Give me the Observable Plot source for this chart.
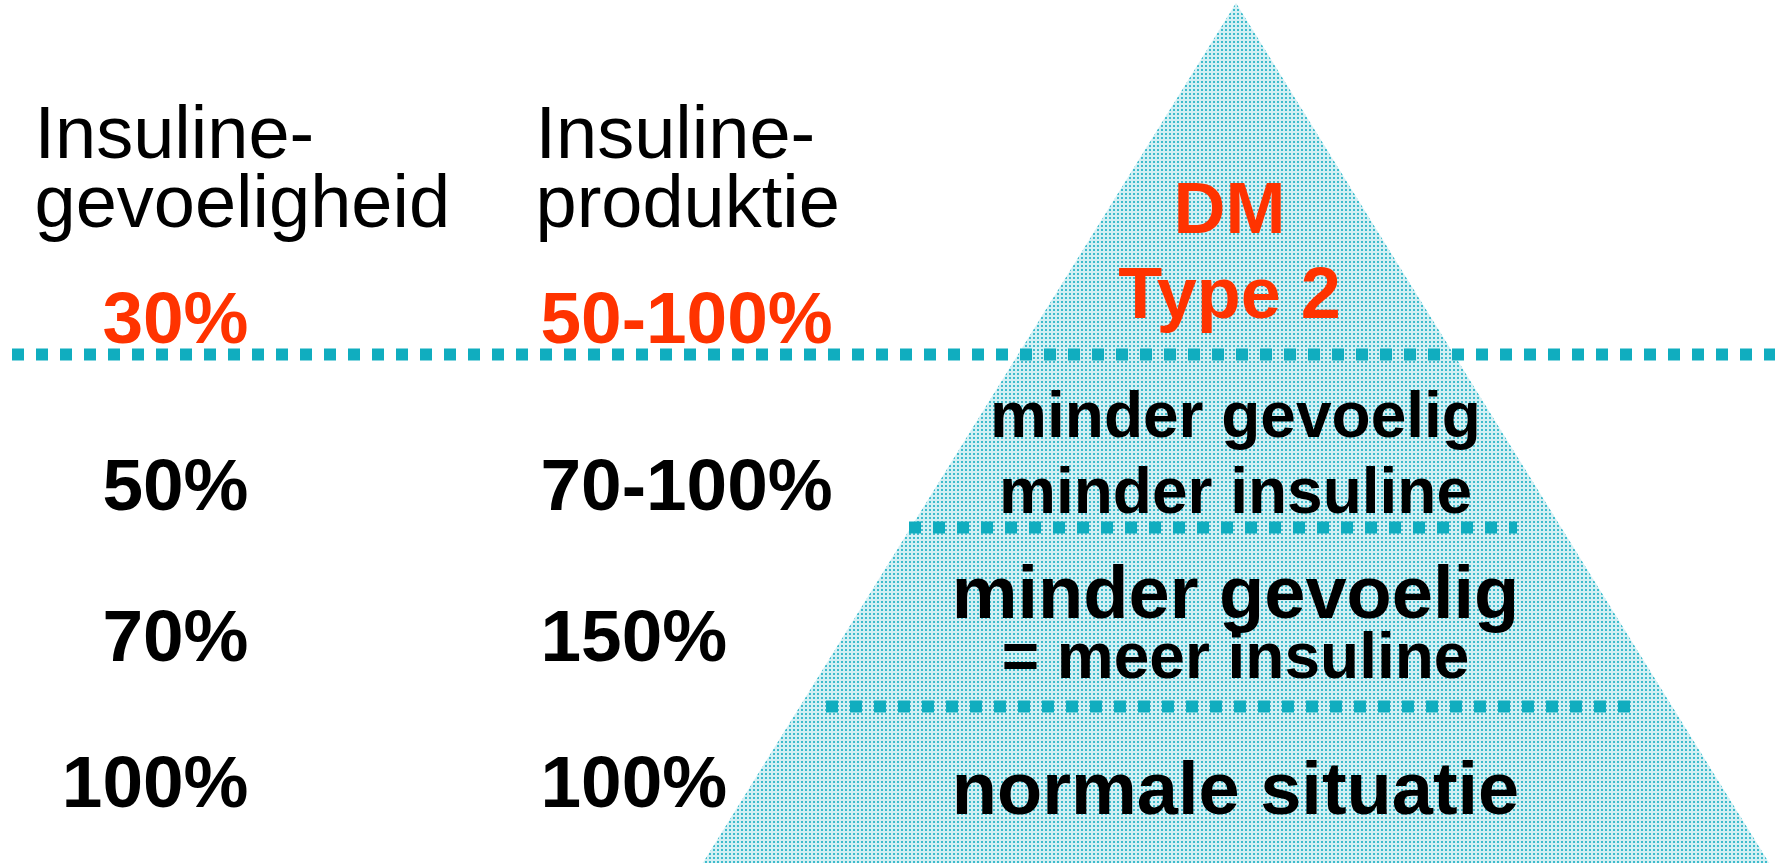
<!DOCTYPE html>
<html>
<head>
<meta charset="utf-8">
<script src="https://cdn.jsdelivr.net/npm/d3@7"></script>
<script src="https://cdn.jsdelivr.net/npm/@observablehq/plot@0.6"></script>
<style>
  html, body { margin: 0; padding: 0; background: #ffffff; overflow: hidden; }
  svg { display: block; }
</style>
</head>
<body>
<div id="chart"></div>
<script>
// ---- data ----
const columnHeaders = ["Insuline-\ngevoeligheid", "Insuline-\nproduktie"];
const sensitivity = ["30%", "50%", "70%", "100%"];
const production = ["50-100%", "70-100%", "150%", "100%"];
const stageNames = ["DM Type 2", "minder gevoelig, minder insuline", "minder gevoelig = meer insuline", "normale situatie"];
const stageLine1 = ["DM", "minder gevoelig", "minder gevoelig", "normale situatie"];
const stageLine2 = ["Type 2", "minder insuline", "= meer insuline", ""];

// ---- layout (frame units = pixels of the slide) ----
const W = 1775, H = 863;
const L = {
  apex: [1236, 3], slope: 0.62,
  rowBase: [342, 509, 660, 806],
  line1Base: [232, 436, 617, 813],
  line2Base: [317, 512, 677, null],
  line1Size: [72, 64, 74, 74],
  line2Size: [72, 64, 64, 0],
  labelX: [1229, 1235, 1235, 1235],
  dividers: [ {y: 354, x1: 12, x2: 1775}, {y: 527, x1: 909, x2: 1517}, {y: 706, x1: 826, x2: 1632} ],
  colSensX: 248, colProdX: 540, headerX: [34, 535], headerBase: 226
};
const RED = "#ff3300", TEAL = "#10adbf", FONT = "Liberation Sans, Arial, sans-serif";

// pyramid outline from apex and slope
const pyramid = [L.apex[1], H].map(y => ({
  y, x1: L.apex[0] - L.slope * (y - L.apex[1]), x2: L.apex[0] + L.slope * (y - L.apex[1])
}));

const rows = sensitivity.map((s, i) => ({i, sens: s, prod: production[i], red: i === 0}));
const stages = stageNames.map((n, i) => ({i, name: n, l1: stageLine1[i], l2: stageLine2[i], red: i === 0}));

const textBase = {fontFamily: FONT, lineAnchor: "bottom"};

const chart = Plot.plot({
  width: W, height: H,
  margin: 0,
  x: {domain: [0, W], range: [0, W], axis: null},
  y: {domain: [0, H], range: [0, H], axis: null},
  marks: [
    Plot.areaX(pyramid, {y: "y", x1: "x1", x2: "x2", fill: "url(#dotpat)", curve: "linear"}),
    Plot.ruleY(L.dividers, {y: "y", x1: "x1", x2: "x2", stroke: TEAL, strokeWidth: 12, strokeDasharray: "12,12", strokeLinecap: "butt"}),
    // column headers
    Plot.text(columnHeaders, {...textBase, x: (d, i) => L.headerX[i], y: () => L.headerBase, text: d => d,
      textAnchor: "start", fontSize: 74, lineHeight: 0.93, fill: "#000"}),
    // sensitivity column
    Plot.text(rows, {...textBase, x: () => L.colSensX, y: d => L.rowBase[d.i], text: "sens",
      textAnchor: "end", fontSize: 73, fontWeight: "bold", fill: d => d.red ? RED : "#000"}),
    // production column
    Plot.text(rows, {...textBase, x: () => L.colProdX, y: d => L.rowBase[d.i], text: "prod",
      textAnchor: "start", fontSize: 73, fontWeight: "bold", fill: d => d.red ? RED : "#000"}),
    // stage labels
    Plot.text(stages, {...textBase, x: d => L.labelX[d.i], y: d => L.line1Base[d.i], text: "l1",
      textAnchor: "middle", fontSize: d => L.line1Size[d.i], fontWeight: "bold", fill: d => d.red ? RED : "#000"}),
    Plot.text(stages.filter(d => d.l2), {...textBase, x: d => L.labelX[d.i], y: d => L.line2Base[d.i], text: "l2",
      textAnchor: "middle", fontSize: d => L.line2Size[d.i], fontWeight: "bold", fill: d => d.red ? RED : "#000"})
  ]
});

// dotted texture for the pyramid
const defs = `<defs><pattern id="dotpat" patternUnits="userSpaceOnUse" width="4" height="4">
  <rect width="4" height="4" fill="#d4f0f4"/><rect x="1" y="1" width="2" height="2" fill="#3fbccc"/></pattern></defs>`;
chart.insertAdjacentHTML("afterbegin", defs);
document.getElementById("chart").appendChild(chart);
</script>
</body>
</html>
